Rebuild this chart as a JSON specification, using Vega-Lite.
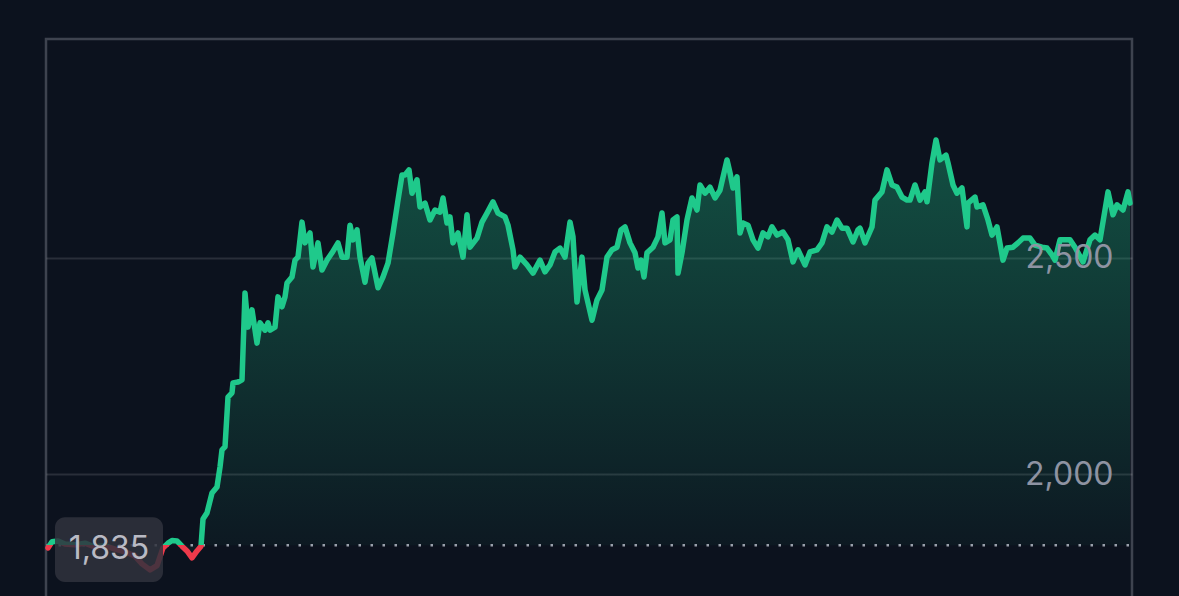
{
  "$schema": "https://vega.github.io/schema/vega-lite/v6.json",
  "width": 1086,
  "height": 600,
  "autosize": "none",
  "padding": {"left": 46, "top": 39, "right": 47, "bottom": 0},
  "background": "#0c121e",
  "config": {
    "view": {"stroke": "#3e434f", "strokeWidth": 2.5},
    "font": "Inter"
  },
  "datasets": {
    "prices": [
      {"t": 0, "price": 1829}, {"t": 4, "price": 1843}, {"t": 10, "price": 1845}, {"t": 17, "price": 1838},
      {"t": 27, "price": 1836}, {"t": 37, "price": 1840}, {"t": 47, "price": 1831}, {"t": 57, "price": 1834},
      {"t": 67, "price": 1826}, {"t": 77, "price": 1820}, {"t": 87, "price": 1810}, {"t": 94, "price": 1792},
      {"t": 102, "price": 1778}, {"t": 109, "price": 1788}, {"t": 115, "price": 1829}, {"t": 120, "price": 1840},
      {"t": 124, "price": 1846}, {"t": 129, "price": 1845}, {"t": 134, "price": 1833}, {"t": 139, "price": 1822},
      {"t": 144, "price": 1806}, {"t": 149, "price": 1822}, {"t": 153, "price": 1833}, {"t": 155, "price": 1896},
      {"t": 159, "price": 1910}, {"t": 164, "price": 1956}, {"t": 169, "price": 1970}, {"t": 172, "price": 2016},
      {"t": 174, "price": 2056}, {"t": 177, "price": 2063}, {"t": 180, "price": 2178}, {"t": 184, "price": 2188},
      {"t": 185, "price": 2211}, {"t": 190, "price": 2213}, {"t": 194, "price": 2218}, {"t": 197, "price": 2419},
      {"t": 200, "price": 2340}, {"t": 204, "price": 2380}, {"t": 209, "price": 2303}, {"t": 212, "price": 2350},
      {"t": 217, "price": 2333}, {"t": 220, "price": 2350}, {"t": 222, "price": 2333}, {"t": 227, "price": 2340},
      {"t": 230, "price": 2410}, {"t": 234, "price": 2387}, {"t": 237, "price": 2410}, {"t": 239, "price": 2442},
      {"t": 244, "price": 2456}, {"t": 247, "price": 2495}, {"t": 250, "price": 2502}, {"t": 254, "price": 2583},
      {"t": 257, "price": 2535}, {"t": 262, "price": 2558}, {"t": 265, "price": 2479}, {"t": 270, "price": 2535},
      {"t": 274, "price": 2472}, {"t": 279, "price": 2495}, {"t": 284, "price": 2512}, {"t": 290, "price": 2535},
      {"t": 294, "price": 2502}, {"t": 299, "price": 2502}, {"t": 302, "price": 2576}, {"t": 305, "price": 2542},
      {"t": 309, "price": 2565}, {"t": 312, "price": 2502}, {"t": 317, "price": 2444}, {"t": 320, "price": 2488},
      {"t": 324, "price": 2500}, {"t": 330, "price": 2431}, {"t": 335, "price": 2456}, {"t": 340, "price": 2488},
      {"t": 345, "price": 2558}, {"t": 350, "price": 2634}, {"t": 354, "price": 2692}, {"t": 357, "price": 2692},
      {"t": 361, "price": 2704}, {"t": 364, "price": 2650}, {"t": 369, "price": 2681}, {"t": 372, "price": 2618},
      {"t": 377, "price": 2627}, {"t": 382, "price": 2588}, {"t": 387, "price": 2611}, {"t": 392, "price": 2606},
      {"t": 395, "price": 2639}, {"t": 399, "price": 2581}, {"t": 402, "price": 2595}, {"t": 405, "price": 2535},
      {"t": 410, "price": 2558}, {"t": 415, "price": 2502}, {"t": 419, "price": 2600}, {"t": 422, "price": 2525},
      {"t": 429, "price": 2546}, {"t": 434, "price": 2583}, {"t": 439, "price": 2604}, {"t": 445, "price": 2630},
      {"t": 450, "price": 2604}, {"t": 457, "price": 2595}, {"t": 460, "price": 2576}, {"t": 465, "price": 2519},
      {"t": 467, "price": 2479}, {"t": 472, "price": 2502}, {"t": 479, "price": 2484}, {"t": 485, "price": 2465},
      {"t": 492, "price": 2495}, {"t": 497, "price": 2468}, {"t": 502, "price": 2484}, {"t": 507, "price": 2514},
      {"t": 512, "price": 2523}, {"t": 517, "price": 2502}, {"t": 522, "price": 2583}, {"t": 525, "price": 2549},
      {"t": 529, "price": 2398}, {"t": 534, "price": 2502}, {"t": 537, "price": 2426}, {"t": 544, "price": 2356},
      {"t": 549, "price": 2403}, {"t": 554, "price": 2426}, {"t": 559, "price": 2502}, {"t": 564, "price": 2519},
      {"t": 569, "price": 2525}, {"t": 573, "price": 2565}, {"t": 577, "price": 2572}, {"t": 582, "price": 2535},
      {"t": 587, "price": 2512}, {"t": 590, "price": 2477}, {"t": 593, "price": 2495}, {"t": 596, "price": 2456},
      {"t": 599, "price": 2512}, {"t": 605, "price": 2525}, {"t": 610, "price": 2549}, {"t": 614, "price": 2604},
      {"t": 617, "price": 2535}, {"t": 622, "price": 2542}, {"t": 625, "price": 2588}, {"t": 629, "price": 2595},
      {"t": 630, "price": 2465}, {"t": 634, "price": 2512}, {"t": 639, "price": 2588}, {"t": 644, "price": 2639},
      {"t": 649, "price": 2611}, {"t": 652, "price": 2669}, {"t": 657, "price": 2650}, {"t": 662, "price": 2664},
      {"t": 667, "price": 2639}, {"t": 672, "price": 2657}, {"t": 679, "price": 2727}, {"t": 682, "price": 2697},
      {"t": 685, "price": 2662}, {"t": 689, "price": 2688}, {"t": 692, "price": 2558}, {"t": 695, "price": 2581},
      {"t": 700, "price": 2576}, {"t": 705, "price": 2542}, {"t": 710, "price": 2523}, {"t": 715, "price": 2558},
      {"t": 720, "price": 2549}, {"t": 724, "price": 2572}, {"t": 729, "price": 2553}, {"t": 735, "price": 2560},
      {"t": 740, "price": 2542}, {"t": 745, "price": 2491}, {"t": 750, "price": 2519}, {"t": 757, "price": 2484},
      {"t": 762, "price": 2514}, {"t": 769, "price": 2519}, {"t": 774, "price": 2535}, {"t": 779, "price": 2572},
      {"t": 784, "price": 2560}, {"t": 789, "price": 2588}, {"t": 794, "price": 2569}, {"t": 799, "price": 2569},
      {"t": 805, "price": 2537}, {"t": 810, "price": 2565}, {"t": 812, "price": 2569}, {"t": 817, "price": 2535},
      {"t": 824, "price": 2572}, {"t": 827, "price": 2634}, {"t": 834, "price": 2653}, {"t": 839, "price": 2704},
      {"t": 844, "price": 2669}, {"t": 849, "price": 2664}, {"t": 854, "price": 2641}, {"t": 859, "price": 2634},
      {"t": 862, "price": 2634}, {"t": 867, "price": 2669}, {"t": 872, "price": 2634}, {"t": 877, "price": 2653},
      {"t": 879, "price": 2630}, {"t": 884, "price": 2720}, {"t": 888, "price": 2773}, {"t": 892, "price": 2727},
      {"t": 898, "price": 2738}, {"t": 900, "price": 2720}, {"t": 905, "price": 2669}, {"t": 909, "price": 2650},
      {"t": 914, "price": 2662}, {"t": 919, "price": 2572}, {"t": 920, "price": 2627}, {"t": 927, "price": 2641},
      {"t": 929, "price": 2618}, {"t": 935, "price": 2623}, {"t": 940, "price": 2588}, {"t": 944, "price": 2553},
      {"t": 949, "price": 2572}, {"t": 955, "price": 2495}, {"t": 959, "price": 2523}, {"t": 965, "price": 2525},
      {"t": 970, "price": 2535}, {"t": 975, "price": 2546}, {"t": 982, "price": 2546}, {"t": 987, "price": 2530},
      {"t": 994, "price": 2525}, {"t": 999, "price": 2523}, {"t": 1004, "price": 2507}, {"t": 1007, "price": 2495},
      {"t": 1012, "price": 2542}, {"t": 1017, "price": 2542}, {"t": 1022, "price": 2542}, {"t": 1027, "price": 2525},
      {"t": 1035, "price": 2491}, {"t": 1042, "price": 2542}, {"t": 1047, "price": 2553}, {"t": 1052, "price": 2542},
      {"t": 1060, "price": 2653}, {"t": 1065, "price": 2600}, {"t": 1069, "price": 2623}, {"t": 1075, "price": 2611},
      {"t": 1080, "price": 2653}, {"t": 1082, "price": 2627}
    ],
    "reference": [{"price": 1835, "label": "1,835"}]
  },
  "resolve": {"axis": {"y": "independent"}},
  "layer": [
    {
      "data": {"name": "prices"},
      "mark": {
        "type": "area",
        "fill": {
          "gradient": "linear",
          "x1": 0, "y1": 0, "x2": 0, "y2": 1,
          "stops": [
            {"offset": 0, "color": "rgba(32,201,139,0.34)"},
            {"offset": 1, "color": "rgba(32,201,139,0.02)"}
          ]
        }
      },
      "encoding": {
        "x": {"field": "t", "type": "quantitative", "scale": {"domain": [-2, 1084], "nice": false, "zero": false}, "axis": null},
        "y": {
          "field": "price", "type": "quantitative",
          "scale": {"domain": [1618.1, 3006.9], "nice": false, "zero": false},
          "axis": {
            "orient": "left", "labels": false, "ticks": false, "domain": false,
            "grid": true, "gridColor": "#ffffff", "gridOpacity": 0.12, "gridWidth": 2,
            "values": [2000, 2500], "title": null
          }
        },
        "y2": {"datum": 1835}
      }
    },
    {
      "data": {"name": "reference"},
      "mark": {"type": "rule", "color": "#9aa0ab", "strokeWidth": 2.5, "strokeDash": [2.5, 9.5], "strokeDashOffset": -3},
      "encoding": {
        "y": {"field": "price", "type": "quantitative", "axis": null}
      }
    },
    {
      "data": {"name": "prices"},
      "mark": {
        "type": "line",
        "strokeWidth": 5.5,
        "strokeJoin": "round",
        "strokeCap": "round",
        "stroke": {
          "gradient": "linear",
          "x1": 0, "y1": 0, "x2": 0, "y2": 1,
          "stops": [
            {"offset": 0, "color": "#1fc98b"},
            {"offset": 0.9428, "color": "#1fc98b"},
            {"offset": 0.9428, "color": "#ef3a4b"},
            {"offset": 1, "color": "#ef3a4b"}
          ]
        }
      },
      "encoding": {
        "x": {"field": "t", "type": "quantitative"},
        "y": {
          "field": "price", "type": "quantitative",
          "axis": {
            "orient": "right", "grid": false, "domain": false, "ticks": false, "tickSize": 0,
            "labelPadding": -19, "labelAlign": "right", "labelBaseline": "middle",
            "labelFontSize": 32, "labelColor": "#8e93a2", "labelFont": "Inter",
            "values": [2000, 2500], "format": ",.0f", "title": null, "zindex": 1
          }
        }
      }
    },
    {
      "data": {"name": "reference"},
      "mark": {"type": "rect", "fill": "#30333d", "opacity": 0.85, "cornerRadius": 10},
      "encoding": {
        "x": {"datum": 7, "type": "quantitative"},
        "x2": {"datum": 115},
        "y": {"datum": 1900, "type": "quantitative", "axis": null},
        "y2": {"datum": 1750}
      }
    },
    {
      "data": {"name": "reference"},
      "mark": {"type": "text", "color": "#b9bac4", "fontSize": 32, "font": "Inter", "align": "center", "baseline": "middle", "dy": 4},
      "encoding": {
        "x": {"datum": 61, "type": "quantitative"},
        "y": {"field": "price", "type": "quantitative", "axis": null},
        "text": {"field": "label"}
      }
    }
  ]
}
